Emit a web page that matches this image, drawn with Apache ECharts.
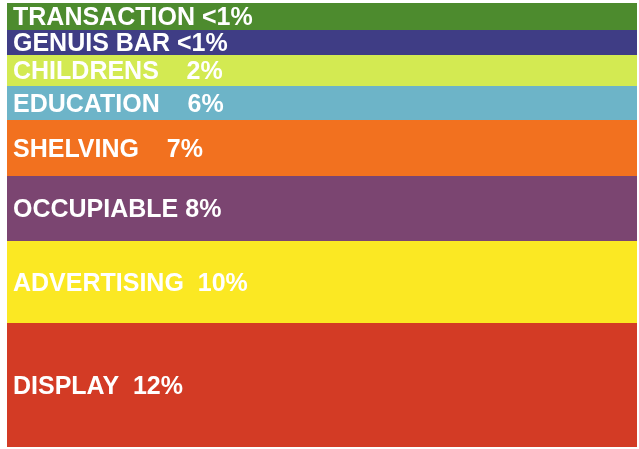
<!DOCTYPE html>
<html>
<head>
<meta charset="utf-8">
<script src="https://cdn.jsdelivr.net/npm/echarts@6/dist/echarts.min.js"></script>
<style>
html,body{margin:0;padding:0;background:#ffffff;}
#chart{width:639px;height:449px;}
</style>
</head>
<body>
<div id="chart"></div>
<script>
// Band names, from top to bottom
const categories = ['TRANSACTION', 'GENUIS BAR', 'CHILDRENS', 'EDUCATION', 'SHELVING', 'OCCUPIABLE', 'ADVERTISING', 'DISPLAY'];
// Percent labels as printed
const percentLabels = ['<1%', '<1%', '2%', '6%', '7%', '8%', '10%', '12%'];
// Gap text between name and percent as printed
const gaps = [' ', ' ', '    ', '    ', '    ', ' ', '  ', '  '];
// Band thickness (relative units) as drawn in the picture
const bandSizes = [27, 25, 31, 34, 56, 65, 82, 124];
const colors = ['#4d8b2e', '#3f3d85', '#d3ea52', '#6db4c8', '#f2711f', '#7b4571', '#fbe823', '#d33b25'];

const total = bandSizes.reduce((a, b) => a + b, 0);

const series = categories.map((name, i) => ({
  name: name,
  type: 'bar',
  stack: 'all',
  barWidth: '100%',
  barCategoryGap: 0,
  data: [bandSizes[i]],
  itemStyle: { color: colors[i] },
  label: {
    show: true,
    position: 'insideLeft',
    distance: 6,
    offset: [0, 2],
    formatter: () => name + gaps[i] + percentLabels[i],
    color: '#ffffff',
    fontFamily: 'Liberation Sans, Arial, sans-serif',
    fontWeight: 'bold',
    fontSize: 25
  }
}));

const chart = echarts.init(document.getElementById('chart'), null, { renderer: 'canvas' });
chart.setOption({
  animation: false,
  backgroundColor: '#ffffff',
  grid: { left: 7, right: 2, top: 3, bottom: 2, containLabel: false },
  xAxis: { type: 'category', data: ['store'], show: false },
  yAxis: { type: 'value', min: 0, max: total, inverse: true, show: false },
  series: series
});
</script>
</body>
</html>
